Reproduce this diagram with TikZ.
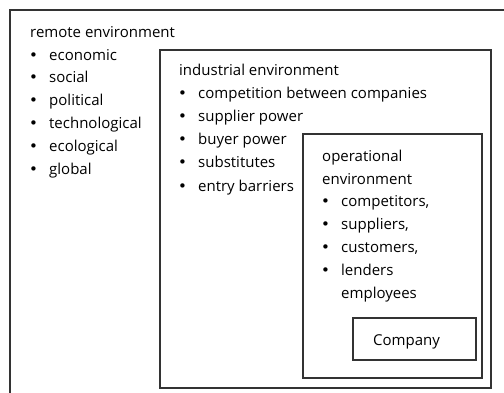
\documentclass[tikz,border=0pt]{standalone}
\usepackage{fontspec}
\setmainfont{Open Sans}
\newfontfamily\dotfont{DejaVu Sans}
\usetikzlibrary{calc}

% bullet followed by a fixed indent
\newcommand{\itm}{\makebox[19pt][l]{\dotfont\hspace{-1pt}•}}

\begin{document}
\begin{tikzpicture}[
  x=1pt,y=1pt,
  font=\fontsize{15}{22.8}\selectfont,
  envbox/.style={draw=black!80,line width=1.5pt,inner sep=0pt,anchor=north west},
  envtext/.style={anchor=base west,inner sep=0pt,align=left,text=black},
]
  \clip (0,0) rectangle (504,-392);

  % nested environments, outermost runs off the page
  \node[envbox,minimum width=520pt,minimum height=410pt] (remote) at (9,-9) {};
  \node[envbox,minimum width=331pt,minimum height=338pt] (industrial) at (159,-49) {};
  \node[envbox,minimum width=179pt,minimum height=244pt] (operational) at (302,-133) {};
  \node[envbox,minimum width=123pt,minimum height=42pt] (company) at (352,-317) {};

  % lists sit on the baseline of their last line
  \node[envtext] (remotetext) at ($(remote.north west)+(21,-165)$) {
    remote environment\\
    \itm economic\\
    \itm social\\
    \itm political\\
    \itm technological\\
    \itm ecological\\
    \itm global
  };

  \node[envtext,font=\fontsize{15}{23.2}\selectfont] (industrialtext) at ($(industrial.north west)+(20,-142)$) {
    industrial environment\\
    \itm competition between companies\\
    \itm supplier power\\
    \itm buyer power\\
    \itm substitutes\\
    \itm entry barriers
  };

  \node[envtext] (operationaltext) at ($(operational.north west)+(20,-165)$) {
    operational\\
    environment\\
    \itm competitors,\\
    \itm suppliers,\\
    \itm customers,\\
    \itm lenders\\
    \hspace*{19pt}employees
  };

  \node[envtext] (companytext) at ($(company.north west)+(21,-28)$) {Company};
\end{tikzpicture}
\end{document}
